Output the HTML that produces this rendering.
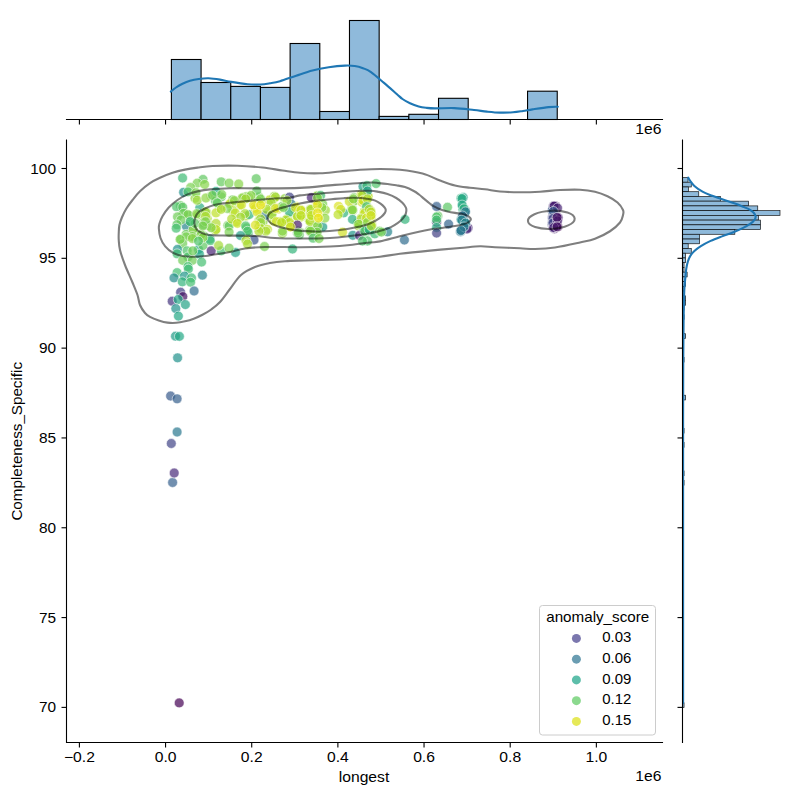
<!DOCTYPE html>
<html><head><meta charset="utf-8"><title>jointplot</title>
<style>html,body{margin:0;padding:0;background:#fff;}body{width:800px;height:800px;overflow:hidden;}svg{display:block;opacity:0.999;}text{font-family:"Liberation Sans",sans-serif;font-size:14px;fill:#000;}</style>
</head><body>
<svg width="800" height="800" viewBox="0 0 800 800">
<rect width="800" height="800" fill="#fff"/>
<g fill="#8fbadb" stroke="#000" stroke-width="1.1">
<rect x="171.40" y="59.50" width="29.68" height="60.00"/>
<rect x="201.08" y="82.50" width="29.68" height="37.00"/>
<rect x="230.76" y="86.40" width="29.68" height="33.10"/>
<rect x="260.44" y="87.40" width="29.68" height="32.10"/>
<rect x="290.12" y="43.50" width="29.68" height="76.00"/>
<rect x="319.80" y="111.50" width="29.68" height="8.00"/>
<rect x="349.48" y="20.50" width="29.68" height="99.00"/>
<rect x="379.16" y="116.40" width="29.68" height="3.10"/>
<rect x="408.84" y="114.30" width="29.68" height="5.20"/>
<rect x="438.52" y="98.30" width="29.68" height="21.20"/>
<rect x="527.56" y="91.20" width="29.68" height="28.30"/>
</g>
<path d="M170.80,91.60C171.67,90.92 174.05,88.80 176.00,87.50C177.95,86.20 180.17,84.92 182.50,83.80C184.83,82.68 187.30,81.60 190.00,80.80C192.70,80.00 195.62,79.42 198.70,79.00C201.78,78.58 204.95,78.20 208.50,78.30C212.05,78.40 216.22,79.00 220.00,79.60C223.78,80.20 226.62,81.13 231.20,81.90C235.78,82.67 242.62,83.77 247.50,84.20C252.38,84.63 256.75,84.65 260.50,84.50C264.25,84.35 266.75,83.85 270.00,83.30C273.25,82.75 275.63,82.47 280.00,81.20C284.37,79.93 290.78,77.48 296.20,75.70C301.62,73.92 307.08,71.90 312.50,70.50C317.92,69.10 323.28,68.12 328.70,67.30C334.12,66.48 340.67,65.82 345.00,65.60C349.33,65.38 351.70,65.57 354.70,66.00C357.70,66.43 360.28,67.18 363.00,68.20C365.72,69.22 367.50,69.65 371.00,72.10C374.50,74.55 379.67,79.22 384.00,82.90C388.33,86.58 393.92,91.52 397.00,94.20C400.08,96.88 400.33,97.48 402.50,99.00C404.67,100.52 407.30,102.05 410.00,103.30C412.70,104.55 416.03,105.75 418.70,106.50C421.37,107.25 423.28,107.48 426.00,107.80C428.72,108.12 430.25,108.35 435.00,108.40C439.75,108.45 448.00,107.83 454.50,108.10C461.00,108.37 468.58,109.42 474.00,110.00C479.42,110.58 482.67,111.17 487.00,111.60C491.33,112.03 495.67,112.48 500.00,112.60C504.33,112.72 509.17,112.57 513.00,112.30C516.83,112.03 519.75,111.48 523.00,111.00C526.25,110.52 528.22,110.05 532.50,109.40C536.78,108.75 544.48,107.53 548.70,107.10C552.92,106.67 556.28,106.85 557.80,106.80" fill="none" stroke="#1f77b4" stroke-width="2.1" stroke-linecap="round" stroke-linejoin="round"/>
<g fill="#8fbadb" stroke="#000" stroke-width="0.7" stroke-opacity="0.9">
<rect x="682.50" y="177.50" width="5.52" height="4.73"/>
<rect x="682.50" y="182.23" width="8.77" height="4.73"/>
<rect x="682.50" y="186.97" width="6.01" height="4.73"/>
<rect x="682.50" y="191.70" width="16.25" height="4.73"/>
<rect x="682.50" y="196.43" width="38.02" height="4.73"/>
<rect x="682.50" y="201.16" width="66.14" height="4.73"/>
<rect x="682.50" y="205.90" width="75.24" height="4.73"/>
<rect x="682.50" y="210.63" width="97.50" height="4.73"/>
<rect x="682.50" y="215.36" width="75.89" height="4.73"/>
<rect x="682.50" y="220.10" width="78.00" height="4.73"/>
<rect x="682.50" y="224.83" width="78.00" height="4.73"/>
<rect x="682.50" y="229.56" width="52.32" height="4.73"/>
<rect x="682.50" y="234.30" width="17.06" height="4.73"/>
<rect x="682.50" y="239.03" width="17.06" height="4.73"/>
<rect x="682.50" y="243.76" width="5.69" height="4.73"/>
<rect x="682.50" y="248.50" width="8.77" height="4.73"/>
<rect x="682.50" y="253.23" width="3.09" height="4.73"/>
<rect x="682.50" y="257.96" width="3.09" height="4.73"/>
<rect x="682.50" y="262.69" width="1.55" height="4.73"/>
<rect x="682.50" y="267.43" width="1.55" height="4.73"/>
<rect x="682.50" y="272.16" width="4.65" height="4.73"/>
<rect x="682.50" y="276.89" width="3.10" height="4.73"/>
<rect x="682.50" y="281.63" width="3.10" height="4.73"/>
<rect x="682.50" y="286.36" width="1.55" height="4.73"/>
<rect x="682.50" y="291.09" width="1.55" height="4.73"/>
<rect x="682.50" y="295.82" width="3.10" height="4.73"/>
<rect x="682.50" y="300.56" width="3.10" height="4.73"/>
<rect x="682.50" y="305.29" width="1.55" height="4.73"/>
<rect x="682.50" y="314.76" width="1.55" height="4.73"/>
<rect x="682.50" y="333.69" width="3.10" height="4.73"/>
<rect x="682.50" y="357.35" width="1.55" height="4.73"/>
<rect x="682.50" y="395.22" width="3.10" height="4.73"/>
<rect x="682.50" y="428.35" width="1.55" height="4.73"/>
<rect x="682.50" y="442.55" width="1.55" height="4.73"/>
<rect x="682.50" y="470.95" width="1.55" height="4.73"/>
<rect x="682.50" y="480.41" width="1.55" height="4.73"/>
<rect x="682.50" y="702.86" width="1.55" height="4.73"/>
</g>
<path d="M688.20,177.55C688.55,178.15 689.28,179.72 690.31,181.12C691.34,182.53 692.34,184.24 694.37,186.00C696.41,187.76 699.52,190.06 702.50,191.69C705.48,193.31 708.73,194.39 712.25,195.75C715.77,197.10 719.83,198.51 723.62,199.81C727.42,201.11 731.75,202.38 735.00,203.55C738.25,204.71 740.69,205.80 743.12,206.80C745.56,207.80 747.86,208.56 749.62,209.56C751.38,210.56 752.68,211.67 753.69,212.81C754.69,213.95 755.50,215.22 755.64,216.39C755.77,217.55 755.36,218.58 754.50,219.80C753.63,221.02 752.33,222.34 750.44,223.70C748.54,225.05 745.97,226.49 743.12,227.92C740.28,229.36 736.89,230.90 733.37,232.31C729.85,233.72 725.79,234.94 722.00,236.37C718.21,237.81 714.14,239.30 710.62,240.92C707.10,242.55 703.58,244.44 700.87,246.12C698.17,247.80 696.13,249.37 694.37,251.00C692.61,252.62 691.40,254.11 690.31,255.87C689.23,257.63 688.55,259.39 687.87,261.56C687.20,263.73 686.66,266.30 686.25,268.87C685.84,271.45 685.76,273.48 685.44,277.00C685.11,280.52 684.61,282.83 684.30,290.00C683.99,297.16 683.77,308.33 683.60,320.00C683.43,331.67 683.33,343.33 683.25,360.00C683.17,376.67 683.12,396.67 683.10,420.00C683.08,443.33 683.10,470.00 683.10,500.00C683.10,530.00 683.10,566.17 683.10,600.00C683.10,633.83 683.10,685.83 683.10,703.00" fill="none" stroke="#1f77b4" stroke-width="2.1" stroke-linecap="round" stroke-linejoin="round"/>
<g id="pts" stroke="#fff" stroke-width="0.79" stroke-opacity="0.7" fill-opacity="0.7">
<circle cx="195.0" cy="198.2" r="4.91" fill="#96d73f"/>
<circle cx="211.1" cy="196.0" r="4.91" fill="#8bd446"/>
<circle cx="221.2" cy="196.9" r="4.91" fill="#62c95f"/>
<circle cx="215.5" cy="200.9" r="4.91" fill="#5ac663"/>
<circle cx="230.4" cy="204.4" r="4.91" fill="#b4dd2b"/>
<circle cx="180.5" cy="205.7" r="4.91" fill="#63c95e"/>
<circle cx="182.7" cy="213.7" r="4.91" fill="#6dcd59"/>
<circle cx="189.5" cy="215.6" r="4.91" fill="#6ccc59"/>
<circle cx="192.8" cy="230.8" r="4.91" fill="#72ce56"/>
<circle cx="197.5" cy="215.0" r="4.91" fill="#8cd545"/>
<circle cx="206.5" cy="212.5" r="4.91" fill="#a1d938"/>
<circle cx="207.2" cy="218.6" r="4.91" fill="#a7da34"/>
<circle cx="203.3" cy="222.6" r="4.91" fill="#84d34b"/>
<circle cx="215.4" cy="230.3" r="4.91" fill="#9dd83b"/>
<circle cx="209.5" cy="225.8" r="4.91" fill="#6dcd58"/>
<circle cx="227.8" cy="225.5" r="4.91" fill="#73cf55"/>
<circle cx="200.8" cy="234.9" r="4.91" fill="#94d641"/>
<circle cx="192.0" cy="235.8" r="4.91" fill="#94d640"/>
<circle cx="219.6" cy="208.1" r="4.91" fill="#9ed83a"/>
<circle cx="203.3" cy="224.8" r="4.91" fill="#5fc860"/>
<circle cx="189.5" cy="221.9" r="4.91" fill="#5cc762"/>
<circle cx="248.8" cy="197.4" r="4.91" fill="#9ad83c"/>
<circle cx="243.7" cy="197.5" r="4.91" fill="#87d448"/>
<circle cx="246.4" cy="196.7" r="4.91" fill="#85d34a"/>
<circle cx="232.7" cy="199.8" r="4.91" fill="#72ce56"/>
<circle cx="258.9" cy="196.9" r="4.91" fill="#73cf55"/>
<circle cx="258.2" cy="200.8" r="4.91" fill="#82d34c"/>
<circle cx="274.3" cy="196.3" r="4.91" fill="#99d73d"/>
<circle cx="273.6" cy="198.8" r="4.91" fill="#c3e026"/>
<circle cx="284.8" cy="198.6" r="4.91" fill="#91d642"/>
<circle cx="269.4" cy="200.0" r="4.91" fill="#bade28"/>
<circle cx="239.6" cy="205.2" r="4.91" fill="#b1dd2d"/>
<circle cx="256.0" cy="206.8" r="4.91" fill="#eae525"/>
<circle cx="254.7" cy="206.8" r="4.91" fill="#eee525"/>
<circle cx="262.0" cy="204.1" r="4.91" fill="#d8e226"/>
<circle cx="269.1" cy="211.2" r="4.91" fill="#bddf26"/>
<circle cx="258.3" cy="210.6" r="4.91" fill="#dee325"/>
<circle cx="232.8" cy="210.5" r="4.91" fill="#aedc2f"/>
<circle cx="245.9" cy="216.0" r="4.91" fill="#a5da35"/>
<circle cx="236.0" cy="222.0" r="4.91" fill="#b6de2a"/>
<circle cx="246.3" cy="228.0" r="4.91" fill="#61c95f"/>
<circle cx="248.3" cy="232.7" r="4.91" fill="#3dba74"/>
<circle cx="259.0" cy="220.4" r="4.91" fill="#97d73e"/>
<circle cx="263.0" cy="222.0" r="4.91" fill="#8ed544"/>
<circle cx="259.0" cy="226.7" r="4.91" fill="#98d73e"/>
<circle cx="267.4" cy="229.4" r="4.91" fill="#bfdf26"/>
<circle cx="271.3" cy="214.8" r="4.91" fill="#89d447"/>
<circle cx="277.9" cy="209.2" r="4.91" fill="#d2e226"/>
<circle cx="277.7" cy="208.2" r="4.91" fill="#e8e425"/>
<circle cx="282.0" cy="206.4" r="4.91" fill="#6fcd57"/>
<circle cx="295.8" cy="206.4" r="4.91" fill="#cbe126"/>
<circle cx="294.7" cy="209.7" r="4.91" fill="#c7e026"/>
<circle cx="295.5" cy="208.0" r="4.91" fill="#eae525"/>
<circle cx="295.4" cy="209.7" r="4.91" fill="#d0e126"/>
<circle cx="274.0" cy="221.3" r="4.91" fill="#bcdf27"/>
<circle cx="287.5" cy="218.3" r="4.91" fill="#aedc30"/>
<circle cx="287.1" cy="220.2" r="4.91" fill="#a4da36"/>
<circle cx="289.8" cy="223.9" r="4.91" fill="#a3d937"/>
<circle cx="296.8" cy="215.3" r="4.91" fill="#c2e026"/>
<circle cx="297.4" cy="216.7" r="4.91" fill="#c1df26"/>
<circle cx="298.4" cy="216.1" r="4.91" fill="#b7de2a"/>
<circle cx="297.4" cy="216.5" r="4.91" fill="#bddf26"/>
<circle cx="282.4" cy="233.4" r="4.91" fill="#95d740"/>
<circle cx="299.3" cy="231.8" r="4.91" fill="#72ce55"/>
<circle cx="299.3" cy="234.7" r="4.91" fill="#5cc762"/>
<circle cx="297.3" cy="232.7" r="4.91" fill="#58c664"/>
<circle cx="297.6" cy="230.9" r="4.91" fill="#78d052"/>
<circle cx="291.4" cy="225.2" r="4.91" fill="#d8e226"/>
<circle cx="290.8" cy="225.1" r="4.91" fill="#e2e425"/>
<circle cx="291.5" cy="225.5" r="4.91" fill="#e7e425"/>
<circle cx="290.2" cy="226.8" r="4.91" fill="#e9e525"/>
<circle cx="281.3" cy="222.6" r="4.91" fill="#b2dd2d"/>
<circle cx="280.1" cy="221.6" r="4.91" fill="#cbe126"/>
<circle cx="317.5" cy="195.8" r="4.91" fill="#a8db34"/>
<circle cx="318.2" cy="200.4" r="4.91" fill="#6fcd57"/>
<circle cx="316.9" cy="195.7" r="4.91" fill="#9ad83c"/>
<circle cx="316.9" cy="196.1" r="4.91" fill="#82d34c"/>
<circle cx="318.3" cy="203.8" r="4.91" fill="#c7e026"/>
<circle cx="318.5" cy="205.4" r="4.91" fill="#eae525"/>
<circle cx="316.5" cy="202.8" r="4.91" fill="#e9e525"/>
<circle cx="317.3" cy="202.9" r="4.91" fill="#f9e725"/>
<circle cx="309.9" cy="211.2" r="4.91" fill="#93d641"/>
<circle cx="311.8" cy="209.2" r="4.91" fill="#a5da36"/>
<circle cx="311.0" cy="211.5" r="4.91" fill="#a0d939"/>
<circle cx="310.0" cy="209.5" r="4.91" fill="#9ed93a"/>
<circle cx="316.7" cy="210.7" r="4.91" fill="#d7e226"/>
<circle cx="317.0" cy="211.9" r="4.91" fill="#fae725"/>
<circle cx="317.0" cy="212.9" r="4.91" fill="#d5e226"/>
<circle cx="317.1" cy="210.5" r="4.91" fill="#dae326"/>
<circle cx="318.5" cy="216.5" r="4.91" fill="#e8e425"/>
<circle cx="319.4" cy="216.1" r="4.91" fill="#fde725"/>
<circle cx="318.2" cy="218.1" r="4.91" fill="#fde725"/>
<circle cx="318.1" cy="218.1" r="4.91" fill="#f6e625"/>
<circle cx="310.9" cy="222.6" r="4.91" fill="#b9de29"/>
<circle cx="309.9" cy="220.8" r="4.91" fill="#92d642"/>
<circle cx="309.2" cy="219.5" r="4.91" fill="#c0df26"/>
<circle cx="309.5" cy="219.9" r="4.91" fill="#94d640"/>
<circle cx="318.4" cy="226.9" r="4.91" fill="#79d152"/>
<circle cx="316.9" cy="225.0" r="4.91" fill="#85d34a"/>
<circle cx="316.7" cy="225.7" r="4.91" fill="#78d052"/>
<circle cx="318.6" cy="228.4" r="4.91" fill="#8bd446"/>
<circle cx="316.6" cy="231.4" r="4.91" fill="#5fc860"/>
<circle cx="316.8" cy="232.0" r="4.91" fill="#7ad151"/>
<circle cx="316.4" cy="232.1" r="4.91" fill="#5fc860"/>
<circle cx="316.5" cy="230.0" r="4.91" fill="#75cf54"/>
<circle cx="309.4" cy="230.2" r="4.91" fill="#6ccc59"/>
<circle cx="310.7" cy="231.3" r="4.91" fill="#8bd546"/>
<circle cx="310.9" cy="232.3" r="4.91" fill="#93d641"/>
<circle cx="310.2" cy="230.3" r="4.91" fill="#9ad83c"/>
<circle cx="301.4" cy="210.9" r="4.91" fill="#acdb31"/>
<circle cx="301.7" cy="212.2" r="4.91" fill="#d2e226"/>
<circle cx="301.5" cy="211.8" r="4.91" fill="#b2dd2d"/>
<circle cx="301.0" cy="210.2" r="4.91" fill="#dfe325"/>
<circle cx="301.7" cy="215.9" r="4.91" fill="#d6e226"/>
<circle cx="301.3" cy="216.5" r="4.91" fill="#abdb32"/>
<circle cx="299.8" cy="213.7" r="4.91" fill="#b4dd2c"/>
<circle cx="300.0" cy="217.2" r="4.91" fill="#c1df26"/>
<circle cx="353.5" cy="199.7" r="4.91" fill="#6dcd58"/>
<circle cx="354.0" cy="197.7" r="4.91" fill="#6ecd58"/>
<circle cx="352.8" cy="200.0" r="4.91" fill="#75cf54"/>
<circle cx="354.0" cy="201.3" r="4.91" fill="#87d449"/>
<circle cx="352.4" cy="210.7" r="4.91" fill="#a0d939"/>
<circle cx="352.8" cy="210.5" r="4.91" fill="#73cf55"/>
<circle cx="351.7" cy="208.6" r="4.91" fill="#9ed93a"/>
<circle cx="352.0" cy="210.1" r="4.91" fill="#70ce57"/>
<circle cx="362.0" cy="193.5" r="4.91" fill="#c9e126"/>
<circle cx="361.4" cy="197.8" r="4.91" fill="#cce126"/>
<circle cx="360.9" cy="195.2" r="4.91" fill="#c5e026"/>
<circle cx="363.2" cy="195.1" r="4.91" fill="#a0d939"/>
<circle cx="364.1" cy="199.2" r="4.91" fill="#d5e226"/>
<circle cx="362.1" cy="200.7" r="4.91" fill="#ede525"/>
<circle cx="362.1" cy="202.2" r="4.91" fill="#d1e126"/>
<circle cx="363.9" cy="201.6" r="4.91" fill="#bfdf26"/>
<circle cx="367.4" cy="196.5" r="4.91" fill="#8ed544"/>
<circle cx="367.4" cy="198.7" r="4.91" fill="#a2d937"/>
<circle cx="366.5" cy="198.1" r="4.91" fill="#a3da37"/>
<circle cx="368.2" cy="196.4" r="4.91" fill="#c0df26"/>
<circle cx="365.7" cy="214.0" r="4.91" fill="#e4e425"/>
<circle cx="364.2" cy="212.3" r="4.91" fill="#c3e026"/>
<circle cx="365.9" cy="213.3" r="4.91" fill="#c1df26"/>
<circle cx="364.5" cy="211.8" r="4.91" fill="#acdb31"/>
<circle cx="363.7" cy="214.6" r="4.91" fill="#bcdf27"/>
<circle cx="368.5" cy="208.2" r="4.91" fill="#b0dc2e"/>
<circle cx="368.4" cy="208.8" r="4.91" fill="#cde126"/>
<circle cx="370.0" cy="211.0" r="4.91" fill="#b8de29"/>
<circle cx="370.1" cy="211.6" r="4.91" fill="#b3dd2c"/>
<circle cx="360.1" cy="220.2" r="4.91" fill="#acdc31"/>
<circle cx="361.8" cy="219.7" r="4.91" fill="#a1d938"/>
<circle cx="360.1" cy="221.1" r="4.91" fill="#97d73f"/>
<circle cx="361.1" cy="218.2" r="4.91" fill="#a2d937"/>
<circle cx="367.6" cy="216.9" r="4.91" fill="#d4e226"/>
<circle cx="366.0" cy="218.4" r="4.91" fill="#c3e026"/>
<circle cx="365.7" cy="216.4" r="4.91" fill="#b7de2a"/>
<circle cx="367.5" cy="218.1" r="4.91" fill="#b8de29"/>
<circle cx="359.8" cy="223.9" r="4.91" fill="#77d053"/>
<circle cx="357.9" cy="222.2" r="4.91" fill="#84d34b"/>
<circle cx="357.6" cy="222.9" r="4.91" fill="#7ed24e"/>
<circle cx="358.8" cy="226.1" r="4.91" fill="#9fd939"/>
<circle cx="367.2" cy="222.6" r="4.91" fill="#7fd24e"/>
<circle cx="367.0" cy="220.3" r="4.91" fill="#79d152"/>
<circle cx="368.5" cy="220.6" r="4.91" fill="#88d448"/>
<circle cx="367.7" cy="224.3" r="4.91" fill="#75cf54"/>
<circle cx="364.1" cy="230.7" r="4.91" fill="#4cc26b"/>
<circle cx="365.8" cy="232.9" r="4.91" fill="#63c95e"/>
<circle cx="363.6" cy="228.9" r="4.91" fill="#5ac663"/>
<circle cx="365.6" cy="231.1" r="4.91" fill="#54c467"/>
<circle cx="312.3" cy="217.9" r="4.91" fill="#acdb31"/>
<circle cx="310.5" cy="213.8" r="4.91" fill="#bedf26"/>
<circle cx="311.8" cy="217.7" r="4.91" fill="#cbe126"/>
<circle cx="311.8" cy="216.8" r="4.91" fill="#bade28"/>
<circle cx="371.2" cy="213.0" r="4.91" fill="#a3da37"/>
<circle cx="369.9" cy="212.1" r="4.91" fill="#c2e026"/>
<circle cx="370.6" cy="210.6" r="4.91" fill="#c3e026"/>
<circle cx="369.7" cy="211.0" r="4.91" fill="#bade28"/>
<circle cx="371.2" cy="217.4" r="4.91" fill="#cfe126"/>
<circle cx="370.3" cy="214.2" r="4.91" fill="#eee525"/>
<circle cx="371.4" cy="214.5" r="4.91" fill="#b1dd2e"/>
<circle cx="370.9" cy="216.4" r="4.91" fill="#cbe126"/>
<circle cx="371.7" cy="228.1" r="4.91" fill="#9dd83a"/>
<circle cx="370.2" cy="225.2" r="4.91" fill="#aadb32"/>
<circle cx="371.7" cy="224.5" r="4.91" fill="#c3e026"/>
<circle cx="371.9" cy="226.0" r="4.91" fill="#9cd83b"/>
<circle cx="437.9" cy="216.0" r="4.91" fill="#67cb5c"/>
<circle cx="468.1" cy="227.9" r="4.91" fill="#472777"/>
<circle cx="463.2" cy="197.5" r="4.91" fill="#229e88"/>
<circle cx="461.0" cy="198.3" r="4.91" fill="#30b17c"/>
<circle cx="462.7" cy="206.5" r="4.91" fill="#31b27b"/>
<circle cx="463.2" cy="210.1" r="4.91" fill="#35b579"/>
<circle cx="462.9" cy="209.2" r="4.91" fill="#28ac80"/>
<circle cx="465.1" cy="210.8" r="4.91" fill="#2f6c8e"/>
<circle cx="465.0" cy="211.3" r="4.91" fill="#26838d"/>
<circle cx="463.6" cy="215.0" r="4.91" fill="#31688d"/>
<circle cx="463.3" cy="216.9" r="4.91" fill="#306a8d"/>
<circle cx="461.7" cy="219.6" r="4.91" fill="#228f8c"/>
<circle cx="461.0" cy="219.6" r="4.91" fill="#228e8c"/>
<circle cx="465.3" cy="223.9" r="4.91" fill="#238b8c"/>
<circle cx="464.4" cy="221.6" r="4.91" fill="#297a8e"/>
<circle cx="463.4" cy="227.5" r="4.91" fill="#25878d"/>
<circle cx="460.5" cy="231.9" r="4.91" fill="#297b8e"/>
<circle cx="460.4" cy="231.1" r="4.91" fill="#2c738e"/>
<circle cx="552.9" cy="206.9" r="4.91" fill="#462b79"/>
<circle cx="554.4" cy="207.4" r="4.91" fill="#450c5f"/>
<circle cx="553.5" cy="206.0" r="4.91" fill="#462c7a"/>
<circle cx="555.2" cy="205.8" r="4.91" fill="#461466"/>
<circle cx="553.9" cy="206.1" r="4.91" fill="#462b79"/>
<circle cx="554.0" cy="212.4" r="4.91" fill="#34618d"/>
<circle cx="553.7" cy="210.9" r="4.91" fill="#3a558b"/>
<circle cx="553.1" cy="212.2" r="4.91" fill="#3c4e89"/>
<circle cx="552.7" cy="212.2" r="4.91" fill="#3a538a"/>
<circle cx="552.4" cy="210.0" r="4.91" fill="#375b8c"/>
<circle cx="554.2" cy="219.7" r="4.91" fill="#3b518a"/>
<circle cx="552.4" cy="217.3" r="4.91" fill="#443780"/>
<circle cx="553.0" cy="219.1" r="4.91" fill="#414286"/>
<circle cx="552.4" cy="218.3" r="4.91" fill="#404788"/>
<circle cx="553.4" cy="219.2" r="4.91" fill="#3d4d89"/>
<circle cx="552.1" cy="224.0" r="4.91" fill="#423d83"/>
<circle cx="553.2" cy="222.6" r="4.91" fill="#3e4a88"/>
<circle cx="552.3" cy="222.2" r="4.91" fill="#433c82"/>
<circle cx="552.2" cy="224.2" r="4.91" fill="#404687"/>
<circle cx="552.6" cy="222.7" r="4.91" fill="#3b518a"/>
<circle cx="557.8" cy="217.9" r="4.91" fill="#482475"/>
<circle cx="556.1" cy="217.3" r="4.91" fill="#471e6f"/>
<circle cx="557.9" cy="218.6" r="4.91" fill="#440255"/>
<circle cx="556.6" cy="216.3" r="4.91" fill="#45085a"/>
<circle cx="558.2" cy="217.6" r="4.91" fill="#482273"/>
<circle cx="554.6" cy="227.3" r="4.91" fill="#471c6d"/>
<circle cx="554.4" cy="228.8" r="4.91" fill="#461668"/>
<circle cx="554.0" cy="227.9" r="4.91" fill="#471a6c"/>
<circle cx="553.4" cy="226.4" r="4.91" fill="#471a6b"/>
<circle cx="553.2" cy="227.8" r="4.91" fill="#472978"/>
<circle cx="555.9" cy="226.2" r="4.91" fill="#47196a"/>
<circle cx="556.3" cy="226.2" r="4.91" fill="#45085b"/>
<circle cx="557.8" cy="226.9" r="4.91" fill="#440356"/>
<circle cx="556.1" cy="226.4" r="4.91" fill="#461466"/>
<circle cx="557.4" cy="225.5" r="4.91" fill="#450759"/>
<circle cx="204.0" cy="236.1" r="4.91" fill="#6acc5a"/>
<circle cx="183.6" cy="192.3" r="4.91" fill="#21918c"/>
<circle cx="216.0" cy="191.4" r="4.91" fill="#22a884"/>
<circle cx="186.2" cy="226.0" r="4.91" fill="#26848d"/>
<circle cx="199.8" cy="207.6" r="4.91" fill="#29ad80"/>
<circle cx="289.5" cy="197.1" r="4.91" fill="#414487"/>
<circle cx="291.2" cy="204.1" r="4.91" fill="#2a788e"/>
<circle cx="249.2" cy="214.6" r="4.91" fill="#33b47a"/>
<circle cx="289.5" cy="212.0" r="4.91" fill="#29ad80"/>
<circle cx="265.0" cy="215.5" r="4.91" fill="#2a788e"/>
<circle cx="311.4" cy="197.6" r="4.91" fill="#482475"/>
<circle cx="322.7" cy="226.9" r="4.91" fill="#229c88"/>
<circle cx="343.7" cy="212.9" r="4.91" fill="#33b47a"/>
<circle cx="363.0" cy="186.6" r="4.91" fill="#229c88"/>
<circle cx="370.0" cy="230.4" r="4.91" fill="#21918c"/>
<circle cx="436.6" cy="222.2" r="4.91" fill="#472a79"/>
<circle cx="467.0" cy="229.0" r="4.91" fill="#472a79"/>
<circle cx="221.2" cy="250.8" r="4.91" fill="#44bf70"/>
<circle cx="179.2" cy="702.9" r="4.91" fill="#440154"/>
<circle cx="172.6" cy="482.5" r="4.91" fill="#355f8d"/>
<circle cx="174.2" cy="473.0" r="4.91" fill="#472a79"/>
<circle cx="171.3" cy="443.5" r="4.91" fill="#414487"/>
<circle cx="177.1" cy="432.0" r="4.91" fill="#2a788e"/>
<circle cx="170.6" cy="396.0" r="4.91" fill="#375a8c"/>
<circle cx="177.1" cy="398.8" r="4.91" fill="#355f8d"/>
<circle cx="177.6" cy="357.8" r="4.91" fill="#21918c"/>
<circle cx="175.5" cy="336.2" r="4.91" fill="#229c88"/>
<circle cx="179.4" cy="336.4" r="4.91" fill="#22a884"/>
<circle cx="182.6" cy="178.0" r="4.91" fill="#3dba74"/>
<circle cx="203.0" cy="179.4" r="4.91" fill="#5fc860"/>
<circle cx="197.2" cy="183.1" r="4.91" fill="#7ad151"/>
<circle cx="204.6" cy="184.4" r="4.91" fill="#87d448"/>
<circle cx="221.2" cy="181.8" r="4.91" fill="#64ca5d"/>
<circle cx="190.6" cy="187.5" r="4.91" fill="#7ad151"/>
<circle cx="188.0" cy="191.9" r="4.91" fill="#4fc36a"/>
<circle cx="195.9" cy="192.7" r="4.91" fill="#7ad151"/>
<circle cx="197.2" cy="200.2" r="4.91" fill="#9cd83c"/>
<circle cx="205.9" cy="198.0" r="4.91" fill="#8ed544"/>
<circle cx="212.5" cy="195.4" r="4.91" fill="#6fcd57"/>
<circle cx="221.7" cy="194.5" r="4.91" fill="#7ad151"/>
<circle cx="217.3" cy="202.8" r="4.91" fill="#64ca5d"/>
<circle cx="229.1" cy="183.1" r="4.91" fill="#7ad151"/>
<circle cx="230.0" cy="203.7" r="4.91" fill="#bddf26"/>
<circle cx="176.6" cy="206.7" r="4.91" fill="#4fc36a"/>
<circle cx="182.7" cy="207.2" r="4.91" fill="#5ac664"/>
<circle cx="183.6" cy="213.3" r="4.91" fill="#6fcd57"/>
<circle cx="188.0" cy="214.6" r="4.91" fill="#7ad151"/>
<circle cx="177.5" cy="216.8" r="4.91" fill="#6fcd57"/>
<circle cx="181.0" cy="219.9" r="4.91" fill="#6fcd57"/>
<circle cx="177.0" cy="224.7" r="4.91" fill="#5fc860"/>
<circle cx="176.2" cy="228.2" r="4.91" fill="#44bf70"/>
<circle cx="186.2" cy="234.3" r="4.91" fill="#6fcd57"/>
<circle cx="193.2" cy="229.5" r="4.91" fill="#87d448"/>
<circle cx="195.0" cy="223.4" r="4.91" fill="#5fc860"/>
<circle cx="196.7" cy="213.7" r="4.91" fill="#87d448"/>
<circle cx="205.5" cy="212.0" r="4.91" fill="#9cd83c"/>
<circle cx="205.5" cy="216.4" r="4.91" fill="#a9db33"/>
<circle cx="205.5" cy="221.6" r="4.91" fill="#7ad151"/>
<circle cx="216.0" cy="212.9" r="4.91" fill="#bddf26"/>
<circle cx="216.0" cy="223.4" r="4.91" fill="#b0dc2f"/>
<circle cx="216.0" cy="229.5" r="4.91" fill="#bddf26"/>
<circle cx="211.2" cy="227.7" r="4.91" fill="#87d448"/>
<circle cx="227.4" cy="208.5" r="4.91" fill="#7ad151"/>
<circle cx="229.1" cy="226.0" r="4.91" fill="#5fc860"/>
<circle cx="201.1" cy="234.7" r="4.91" fill="#7ad151"/>
<circle cx="209.9" cy="239.1" r="4.91" fill="#29ad80"/>
<circle cx="229.1" cy="232.1" r="4.91" fill="#7ad151"/>
<circle cx="192.4" cy="236.5" r="4.91" fill="#7ad151"/>
<circle cx="181.0" cy="239.1" r="4.91" fill="#6fcd57"/>
<circle cx="221.2" cy="209.4" r="4.91" fill="#b0dc2f"/>
<circle cx="202.9" cy="226.0" r="4.91" fill="#7ad151"/>
<circle cx="190.2" cy="221.6" r="4.91" fill="#44bf70"/>
<circle cx="256.2" cy="178.7" r="4.91" fill="#5fc860"/>
<circle cx="238.7" cy="184.0" r="4.91" fill="#87d448"/>
<circle cx="256.7" cy="191.0" r="4.91" fill="#5fc860"/>
<circle cx="251.0" cy="195.4" r="4.91" fill="#87d448"/>
<circle cx="242.2" cy="198.0" r="4.91" fill="#8ed544"/>
<circle cx="245.7" cy="198.9" r="4.91" fill="#a2d937"/>
<circle cx="234.4" cy="200.6" r="4.91" fill="#8ed544"/>
<circle cx="260.6" cy="198.9" r="4.91" fill="#7ad151"/>
<circle cx="275.5" cy="197.1" r="4.91" fill="#a2d937"/>
<circle cx="286.9" cy="200.6" r="4.91" fill="#9cd83c"/>
<circle cx="271.1" cy="202.4" r="4.91" fill="#9cd83c"/>
<circle cx="241.4" cy="205.0" r="4.91" fill="#d0e126"/>
<circle cx="255.4" cy="208.5" r="4.91" fill="#dde326"/>
<circle cx="266.7" cy="209.4" r="4.91" fill="#a9db33"/>
<circle cx="257.1" cy="212.0" r="4.91" fill="#dde326"/>
<circle cx="235.2" cy="212.9" r="4.91" fill="#bddf26"/>
<circle cx="244.9" cy="213.7" r="4.91" fill="#a9db33"/>
<circle cx="240.5" cy="217.2" r="4.91" fill="#a2d937"/>
<circle cx="231.7" cy="219.0" r="4.91" fill="#b0dc2f"/>
<circle cx="237.4" cy="223.4" r="4.91" fill="#cae126"/>
<circle cx="245.7" cy="226.0" r="4.91" fill="#4fc36a"/>
<circle cx="247.5" cy="231.2" r="4.91" fill="#4fc36a"/>
<circle cx="240.5" cy="235.6" r="4.91" fill="#229c88"/>
<circle cx="254.0" cy="240.0" r="4.91" fill="#3b528a"/>
<circle cx="246.0" cy="240.5" r="4.91" fill="#b0dc2f"/>
<circle cx="247.5" cy="244.0" r="4.91" fill="#a9db33"/>
<circle cx="260.6" cy="219.0" r="4.91" fill="#a2d937"/>
<circle cx="260.6" cy="222.5" r="4.91" fill="#95d740"/>
<circle cx="260.6" cy="228.6" r="4.91" fill="#b0dc2f"/>
<circle cx="265.9" cy="231.2" r="4.91" fill="#a9db33"/>
<circle cx="258.9" cy="231.2" r="4.91" fill="#b0dc2f"/>
<circle cx="272.0" cy="214.6" r="4.91" fill="#a2d937"/>
<circle cx="275.5" cy="208.5" r="4.91" fill="#d0e126"/>
<circle cx="283.4" cy="207.6" r="4.91" fill="#7ad151"/>
<circle cx="295.6" cy="207.6" r="4.91" fill="#d0e126"/>
<circle cx="276.4" cy="221.6" r="4.91" fill="#d0e126"/>
<circle cx="286.0" cy="219.9" r="4.91" fill="#b0dc2f"/>
<circle cx="289.5" cy="222.5" r="4.91" fill="#bddf26"/>
<circle cx="297.4" cy="216.4" r="4.91" fill="#b0dc2f"/>
<circle cx="297.4" cy="225.1" r="4.91" fill="#471d6e"/>
<circle cx="282.5" cy="231.2" r="4.91" fill="#87d448"/>
<circle cx="298.2" cy="233.0" r="4.91" fill="#6fcd57"/>
<circle cx="290.4" cy="226.9" r="4.91" fill="#cae126"/>
<circle cx="281.6" cy="222.5" r="4.91" fill="#bddf26"/>
<circle cx="264.5" cy="246.5" r="4.91" fill="#7ad151"/>
<circle cx="235.5" cy="252.5" r="4.91" fill="#22a386"/>
<circle cx="292.5" cy="249.0" r="4.91" fill="#33b47a"/>
<circle cx="320.6" cy="195.4" r="4.91" fill="#44bf70"/>
<circle cx="317.5" cy="198.0" r="4.91" fill="#87d448"/>
<circle cx="322.7" cy="204.1" r="4.91" fill="#7ad151"/>
<circle cx="310.9" cy="209.4" r="4.91" fill="#b0dc2f"/>
<circle cx="325.4" cy="210.2" r="4.91" fill="#9cd83c"/>
<circle cx="324.9" cy="218.1" r="4.91" fill="#8ed544"/>
<circle cx="310.1" cy="221.6" r="4.91" fill="#b0dc2f"/>
<circle cx="317.5" cy="226.0" r="4.91" fill="#87d448"/>
<circle cx="317.1" cy="232.1" r="4.91" fill="#7ad151"/>
<circle cx="310.5" cy="231.2" r="4.91" fill="#7ad151"/>
<circle cx="300.9" cy="210.2" r="4.91" fill="#cae126"/>
<circle cx="300.9" cy="215.5" r="4.91" fill="#bddf26"/>
<circle cx="313.1" cy="238.2" r="4.91" fill="#4fc36a"/>
<circle cx="319.0" cy="238.5" r="4.91" fill="#7ad151"/>
<circle cx="338.5" cy="206.3" r="4.91" fill="#dde326"/>
<circle cx="340.7" cy="209.4" r="4.91" fill="#d0e126"/>
<circle cx="338.1" cy="214.6" r="4.91" fill="#bddf26"/>
<circle cx="349.4" cy="201.5" r="4.91" fill="#cae126"/>
<circle cx="353.4" cy="198.9" r="4.91" fill="#87d448"/>
<circle cx="352.5" cy="209.8" r="4.91" fill="#8ed544"/>
<circle cx="352.5" cy="219.4" r="4.91" fill="#29ad80"/>
<circle cx="342.5" cy="232.2" r="4.91" fill="#d0e126"/>
<circle cx="352.8" cy="235.3" r="4.91" fill="#21968a"/>
<circle cx="359.5" cy="235.5" r="4.91" fill="#482475"/>
<circle cx="366.9" cy="185.7" r="4.91" fill="#3dba74"/>
<circle cx="367.4" cy="191.0" r="4.91" fill="#229c88"/>
<circle cx="362.1" cy="195.4" r="4.91" fill="#b0dc2f"/>
<circle cx="363.0" cy="200.6" r="4.91" fill="#d0e126"/>
<circle cx="367.4" cy="198.9" r="4.91" fill="#b0dc2f"/>
<circle cx="366.5" cy="206.7" r="4.91" fill="#3dba74"/>
<circle cx="364.7" cy="212.9" r="4.91" fill="#cae126"/>
<circle cx="369.1" cy="209.4" r="4.91" fill="#b0dc2f"/>
<circle cx="361.2" cy="219.0" r="4.91" fill="#b0dc2f"/>
<circle cx="366.5" cy="218.1" r="4.91" fill="#cae126"/>
<circle cx="358.6" cy="224.2" r="4.91" fill="#8ed544"/>
<circle cx="367.4" cy="222.5" r="4.91" fill="#87d448"/>
<circle cx="364.7" cy="231.2" r="4.91" fill="#4fc36a"/>
<circle cx="369.1" cy="229.5" r="4.91" fill="#29ad80"/>
<circle cx="367.5" cy="241.0" r="4.91" fill="#4fc36a"/>
<circle cx="362.5" cy="241.0" r="4.91" fill="#4fc36a"/>
<circle cx="311.4" cy="215.5" r="4.91" fill="#bddf26"/>
<circle cx="321.9" cy="207.6" r="4.91" fill="#87d448"/>
<circle cx="376.1" cy="183.6" r="4.91" fill="#4fc36a"/>
<circle cx="405.0" cy="219.4" r="4.91" fill="#33b47a"/>
<circle cx="387.6" cy="231.8" r="4.91" fill="#26848d"/>
<circle cx="374.8" cy="233.9" r="4.91" fill="#3dba74"/>
<circle cx="379.6" cy="231.2" r="4.91" fill="#6fcd57"/>
<circle cx="381.4" cy="232.1" r="4.91" fill="#6fcd57"/>
<circle cx="404.4" cy="240.0" r="4.91" fill="#306c8e"/>
<circle cx="370.9" cy="212.0" r="4.91" fill="#bddf26"/>
<circle cx="370.9" cy="215.5" r="4.91" fill="#d0e126"/>
<circle cx="371.3" cy="226.0" r="4.91" fill="#b0dc2f"/>
<circle cx="436.6" cy="206.5" r="4.91" fill="#355f8d"/>
<circle cx="447.5" cy="207.2" r="4.91" fill="#5ac664"/>
<circle cx="436.6" cy="217.0" r="4.91" fill="#4fc36a"/>
<circle cx="436.6" cy="220.0" r="4.91" fill="#44bf70"/>
<circle cx="436.6" cy="227.5" r="4.91" fill="#29ad80"/>
<circle cx="436.6" cy="233.1" r="4.91" fill="#423e83"/>
<circle cx="448.6" cy="224.1" r="4.91" fill="#33648d"/>
<circle cx="462.1" cy="198.6" r="4.91" fill="#22a884"/>
<circle cx="462.1" cy="205.0" r="4.91" fill="#22a884"/>
<circle cx="464.0" cy="208.8" r="4.91" fill="#2caf7e"/>
<circle cx="465.5" cy="211.8" r="4.91" fill="#2a788e"/>
<circle cx="462.5" cy="215.9" r="4.91" fill="#306c8e"/>
<circle cx="461.8" cy="220.0" r="4.91" fill="#26848d"/>
<circle cx="465.5" cy="223.0" r="4.91" fill="#26848d"/>
<circle cx="464.0" cy="226.8" r="4.91" fill="#287d8e"/>
<circle cx="461.0" cy="230.5" r="4.91" fill="#2a788e"/>
<circle cx="554.1" cy="206.1" r="4.91" fill="#471d6e"/>
<circle cx="557.5" cy="208.0" r="4.91" fill="#482475"/>
<circle cx="553.4" cy="211.4" r="4.91" fill="#375a8c"/>
<circle cx="553.0" cy="218.5" r="4.91" fill="#414487"/>
<circle cx="553.0" cy="223.0" r="4.91" fill="#414487"/>
<circle cx="557.5" cy="220.8" r="4.91" fill="#482475"/>
<circle cx="557.1" cy="217.4" r="4.91" fill="#461264"/>
<circle cx="553.8" cy="227.5" r="4.91" fill="#482475"/>
<circle cx="557.1" cy="226.8" r="4.91" fill="#461264"/>
<circle cx="186.2" cy="236.8" r="4.91" fill="#7ad151"/>
<circle cx="182.7" cy="243.8" r="4.91" fill="#6fcd57"/>
<circle cx="177.5" cy="249.4" r="4.91" fill="#21918c"/>
<circle cx="177.1" cy="253.8" r="4.91" fill="#44bf70"/>
<circle cx="187.1" cy="250.8" r="4.91" fill="#4fc36a"/>
<circle cx="188.0" cy="256.9" r="4.91" fill="#4fc36a"/>
<circle cx="182.7" cy="260.4" r="4.91" fill="#6fcd57"/>
<circle cx="192.4" cy="260.4" r="4.91" fill="#6fcd57"/>
<circle cx="188.0" cy="266.5" r="4.91" fill="#44bf70"/>
<circle cx="188.4" cy="269.1" r="4.91" fill="#3dba74"/>
<circle cx="198.5" cy="249.4" r="4.91" fill="#22a386"/>
<circle cx="199.4" cy="254.2" r="4.91" fill="#22a884"/>
<circle cx="202.9" cy="245.5" r="4.91" fill="#5fc860"/>
<circle cx="201.6" cy="262.1" r="4.91" fill="#44bf70"/>
<circle cx="210.3" cy="240.7" r="4.91" fill="#44bf70"/>
<circle cx="211.2" cy="250.8" r="4.91" fill="#482475"/>
<circle cx="218.6" cy="245.5" r="4.91" fill="#a2d937"/>
<circle cx="202.9" cy="237.6" r="4.91" fill="#87d448"/>
<circle cx="229.1" cy="248.1" r="4.91" fill="#7ad151"/>
<circle cx="177.1" cy="272.6" r="4.91" fill="#44bf70"/>
<circle cx="174.0" cy="277.9" r="4.91" fill="#238c8c"/>
<circle cx="184.5" cy="276.1" r="4.91" fill="#21968a"/>
<circle cx="191.5" cy="277.9" r="4.91" fill="#3dba74"/>
<circle cx="182.3" cy="281.8" r="4.91" fill="#33b47a"/>
<circle cx="190.6" cy="282.2" r="4.91" fill="#44bf70"/>
<circle cx="202.4" cy="275.2" r="4.91" fill="#26848d"/>
<circle cx="194.1" cy="291.0" r="4.91" fill="#306c8e"/>
<circle cx="180.6" cy="292.2" r="4.91" fill="#423e83"/>
<circle cx="182.8" cy="296.6" r="4.91" fill="#461264"/>
<circle cx="172.2" cy="301.2" r="4.91" fill="#44347e"/>
<circle cx="178.2" cy="299.5" r="4.91" fill="#22a884"/>
<circle cx="185.4" cy="304.6" r="4.91" fill="#22a386"/>
<circle cx="175.8" cy="308.6" r="4.91" fill="#21918c"/>
<circle cx="178.4" cy="316.1" r="4.91" fill="#22a884"/>
<circle cx="192.8" cy="250.8" r="4.91" fill="#6fcd57"/>
<circle cx="180.1" cy="239.4" r="4.91" fill="#7ad151"/>
<circle cx="192.4" cy="238.5" r="4.91" fill="#87d448"/>
<circle cx="198.5" cy="241.1" r="4.91" fill="#4fc36a"/>
<circle cx="253.6" cy="205.0" r="4.91" fill="#dde326"/>
<circle cx="260.6" cy="205.0" r="4.91" fill="#eae525"/>
<circle cx="255.4" cy="225.1" r="4.91" fill="#dde326"/>
<circle cx="317.5" cy="205.0" r="4.91" fill="#dde326"/>
<circle cx="317.5" cy="212.9" r="4.91" fill="#eae525"/>
<circle cx="318.4" cy="218.1" r="4.91" fill="#eae525"/>
</g>
<g fill="none" stroke="#000" stroke-opacity="0.5" stroke-width="2.1" stroke-linejoin="round">
<path d="M118.75,233.00C118.86,230.50 118.88,227.58 119.40,225.00C119.93,222.42 120.76,220.21 121.90,217.50C123.04,214.79 124.48,211.67 126.25,208.75C128.02,205.83 130.21,202.92 132.50,200.00C134.79,197.08 137.08,194.07 140.00,191.25C142.92,188.43 146.67,185.34 150.00,183.10C153.33,180.86 156.25,179.52 160.00,177.80C163.75,176.08 168.33,174.17 172.50,172.80C176.67,171.43 180.83,170.47 185.00,169.60C189.17,168.73 192.92,168.20 197.50,167.60C202.08,167.00 205.83,166.31 212.50,166.00C219.17,165.69 229.17,165.50 237.50,165.75C245.83,166.00 255.00,166.71 262.50,167.50C270.00,168.29 276.25,169.62 282.50,170.50C288.75,171.38 293.75,172.34 300.00,172.80C306.25,173.26 313.33,173.47 320.00,173.25C326.67,173.03 333.33,172.07 340.00,171.50C346.67,170.93 353.33,170.22 360.00,169.80C366.67,169.38 373.33,169.00 380.00,169.00C386.67,169.00 392.92,169.05 400.00,169.80C407.08,170.55 415.83,171.72 422.50,173.50C429.17,175.28 434.58,178.50 440.00,180.50C445.42,182.50 450.00,184.29 455.00,185.50C460.00,186.71 465.00,187.12 470.00,187.75C475.00,188.38 480.00,188.62 485.00,189.25C490.00,189.88 494.17,190.99 500.00,191.50C505.83,192.01 513.33,192.27 520.00,192.30C526.67,192.33 533.33,192.08 540.00,191.70C546.67,191.32 553.33,190.33 560.00,190.00C566.67,189.67 574.17,189.41 580.00,189.70C585.83,189.99 590.42,190.66 595.00,191.75C599.58,192.84 603.75,194.46 607.50,196.25C611.25,198.04 614.92,200.21 617.50,202.50C620.08,204.79 622.08,207.92 623.00,210.00C623.92,212.08 623.50,212.92 623.00,215.00C622.50,217.08 622.17,219.79 620.00,222.50C617.83,225.21 614.17,228.54 610.00,231.25C605.83,233.96 600.00,236.88 595.00,238.75C590.00,240.62 586.67,241.04 580.00,242.50C573.33,243.96 562.50,246.42 555.00,247.50C547.50,248.58 540.83,248.87 535.00,249.00C529.17,249.13 526.67,248.60 520.00,248.30C513.33,248.00 501.67,247.54 495.00,247.20C488.33,246.86 485.83,246.12 480.00,246.25C474.17,246.38 468.33,247.28 460.00,248.00C451.67,248.72 440.00,249.64 430.00,250.60C420.00,251.56 408.33,252.73 400.00,253.75C391.67,254.77 386.67,255.91 380.00,256.70C373.33,257.49 368.33,257.98 360.00,258.50C351.67,259.02 339.17,259.47 330.00,259.80C320.83,260.13 312.50,260.27 305.00,260.50C297.50,260.73 290.83,260.78 285.00,261.20C279.17,261.62 275.00,262.03 270.00,263.00C265.00,263.97 259.83,265.00 255.00,267.00C250.17,269.00 245.17,271.33 241.00,275.00C236.83,278.67 233.50,284.50 230.00,289.00C226.50,293.50 223.12,298.58 220.00,302.00C216.88,305.42 214.17,307.38 211.25,309.50C208.33,311.62 205.42,313.22 202.50,314.75C199.58,316.28 196.67,317.61 193.75,318.70C190.83,319.79 187.92,320.62 185.00,321.30C182.08,321.98 179.17,322.58 176.25,322.80C173.33,323.02 170.42,323.00 167.50,322.60C164.58,322.20 161.67,321.35 158.75,320.40C155.83,319.45 152.29,318.13 150.00,316.90C147.71,315.67 146.67,314.98 145.00,313.00C143.33,311.02 141.25,308.00 140.00,305.00C138.75,302.00 138.75,298.75 137.50,295.00C136.25,291.25 134.58,287.50 132.50,282.50C130.42,277.50 127.08,270.42 125.00,265.00C122.92,259.58 121.04,254.17 120.00,250.00C118.96,245.83 118.96,242.83 118.75,240.00C118.54,237.17 118.64,235.50 118.75,233.00Z"/>
<path d="M158.90,229.00C158.72,226.62 158.80,225.88 159.40,223.75C160.00,221.62 160.94,218.96 162.50,216.25C164.06,213.54 166.25,210.21 168.75,207.50C171.25,204.79 174.38,202.18 177.50,200.00C180.62,197.82 184.17,195.83 187.50,194.40C190.83,192.97 193.75,192.23 197.50,191.40C201.25,190.57 204.58,189.93 210.00,189.40C215.42,188.87 221.67,188.37 230.00,188.20C238.33,188.03 248.33,188.45 260.00,188.40C271.67,188.35 287.50,188.48 300.00,187.90C312.50,187.32 323.33,185.80 335.00,184.90C346.67,184.00 362.71,182.80 370.00,182.50C377.29,182.20 375.83,182.85 378.75,183.10C381.67,183.35 384.58,183.63 387.50,184.00C390.42,184.37 393.33,184.78 396.25,185.30C399.17,185.82 402.08,186.15 405.00,187.10C407.92,188.05 411.42,189.77 413.75,191.00C416.08,192.23 417.25,193.18 419.00,194.50C420.75,195.82 422.50,197.44 424.25,198.90C426.00,200.36 428.04,202.08 429.50,203.25C430.96,204.42 431.83,205.18 433.00,205.90C434.17,206.62 435.33,207.05 436.50,207.60C437.67,208.15 438.17,208.57 440.00,209.20C441.83,209.83 445.00,210.78 447.50,211.40C450.00,212.02 452.50,212.47 455.00,212.90C457.50,213.33 460.37,213.50 462.50,214.00C464.63,214.50 466.48,215.22 467.80,215.90C469.12,216.58 469.90,217.53 470.40,218.10C470.90,218.67 470.80,218.92 470.80,219.30C470.80,219.68 470.90,219.85 470.40,220.40C469.90,220.95 469.12,221.92 467.80,222.60C466.48,223.28 464.63,223.93 462.50,224.50C460.37,225.07 457.50,225.57 455.00,226.00C452.50,226.43 450.00,226.72 447.50,227.10C445.00,227.48 442.92,227.90 440.00,228.30C437.08,228.70 435.83,228.38 430.00,229.50C424.17,230.62 413.33,233.02 405.00,235.00C396.67,236.98 385.83,240.15 380.00,241.40C374.17,242.65 375.00,241.90 370.00,242.50C365.00,243.10 356.67,244.33 350.00,245.00C343.33,245.67 338.33,246.13 330.00,246.50C321.67,246.87 310.83,247.12 300.00,247.20C289.17,247.28 274.17,246.78 265.00,247.00C255.83,247.22 250.83,247.67 245.00,248.50C239.17,249.33 234.83,251.05 230.00,252.00C225.17,252.95 220.08,253.53 216.00,254.20C211.92,254.87 209.00,255.58 205.50,256.00C202.00,256.42 198.80,256.70 195.00,256.70C191.20,256.70 186.35,256.63 182.70,256.00C179.05,255.37 176.02,254.50 173.10,252.90C170.18,251.30 167.30,248.88 165.20,246.40C163.10,243.92 161.55,240.90 160.50,238.00C159.45,235.10 159.08,231.38 158.90,229.00Z"/>
<path d="M194.40,223.00C194.37,221.30 194.62,219.08 195.30,217.30C195.98,215.52 196.80,213.80 198.50,212.30C200.20,210.80 202.88,209.52 205.50,208.30C208.12,207.08 211.28,205.82 214.20,205.00C217.12,204.18 220.37,203.77 223.00,203.40C225.63,203.03 225.92,203.20 230.00,202.80C234.08,202.40 241.67,201.58 247.50,201.00C253.33,200.42 259.58,199.77 265.00,199.30C270.42,198.83 275.83,198.48 280.00,198.20C284.17,197.92 286.67,198.07 290.00,197.60C293.33,197.13 295.42,196.03 300.00,195.40C304.58,194.77 311.67,194.32 317.50,193.80C323.33,193.28 329.17,192.73 335.00,192.30C340.83,191.87 346.67,191.45 352.50,191.20C358.33,190.95 365.62,190.68 370.00,190.80C374.38,190.92 375.83,191.35 378.75,191.90C381.67,192.45 384.58,193.08 387.50,194.10C390.42,195.12 393.77,196.55 396.25,198.00C398.73,199.45 400.79,201.20 402.40,202.80C404.01,204.40 405.25,206.22 405.90,207.60C406.55,208.98 406.45,209.78 406.30,211.10C406.15,212.42 405.95,213.89 405.00,215.50C404.05,217.11 402.35,219.15 400.60,220.75C398.85,222.35 396.68,223.79 394.50,225.10C392.32,226.41 390.12,227.57 387.50,228.60C384.88,229.62 381.67,230.48 378.75,231.25C375.83,232.02 374.79,232.41 370.00,233.20C365.21,233.99 356.67,235.20 350.00,236.00C343.33,236.80 338.33,237.58 330.00,238.00C321.67,238.42 309.17,238.50 300.00,238.50C290.83,238.50 282.50,238.42 275.00,238.00C267.50,237.58 262.50,236.40 255.00,236.00C247.50,235.60 236.80,235.70 230.00,235.60C223.20,235.50 218.28,235.62 214.20,235.40C210.12,235.18 208.12,235.00 205.50,234.30C202.88,233.60 200.17,232.33 198.50,231.20C196.83,230.07 196.18,228.87 195.50,227.50C194.82,226.13 194.43,224.70 194.40,223.00Z"/>
<path d="M267.60,217.70C267.60,216.67 267.77,215.62 268.50,214.60C269.23,213.58 270.40,212.55 272.00,211.60C273.60,210.65 275.77,209.72 278.10,208.90C280.43,208.08 283.52,207.35 286.00,206.70C288.48,206.05 290.67,205.53 293.00,205.00C295.33,204.47 297.38,204.02 300.00,203.50C302.62,202.98 305.83,202.38 308.75,201.90C311.67,201.42 314.58,200.96 317.50,200.60C320.42,200.24 323.33,200.03 326.25,199.75C329.17,199.47 332.08,199.16 335.00,198.90C337.92,198.64 340.83,198.38 343.75,198.20C346.67,198.02 349.58,197.83 352.50,197.80C355.42,197.77 358.33,197.75 361.25,198.00C364.17,198.25 367.67,198.87 370.00,199.30C372.33,199.73 373.50,199.87 375.25,200.60C377.00,201.33 378.98,202.60 380.50,203.70C382.02,204.80 383.52,206.18 384.40,207.20C385.27,208.22 385.67,208.85 385.75,209.80C385.83,210.75 385.62,211.73 384.90,212.90C384.17,214.07 382.87,215.57 381.40,216.80C379.93,218.03 378.00,219.20 376.10,220.30C374.20,221.40 372.68,222.37 370.00,223.40C367.32,224.43 365.00,225.40 360.00,226.50C355.00,227.60 346.67,229.17 340.00,230.00C333.33,230.83 326.67,231.38 320.00,231.50C313.33,231.62 304.50,230.97 300.00,230.70C295.50,230.43 295.33,230.25 293.00,229.90C290.67,229.55 288.48,229.18 286.00,228.60C283.52,228.02 280.43,227.20 278.10,226.40C275.77,225.60 273.60,224.74 272.00,223.80C270.40,222.86 269.23,221.77 268.50,220.75C267.77,219.73 267.60,218.72 267.60,217.70Z"/>
<ellipse cx="551.3" cy="219.8" rx="23.4" ry="9.1" transform="rotate(-3 551.3 219.8)"/>
</g>
<g stroke="#000" stroke-width="1.1" fill="none" stroke-linecap="square">
<path d="M66.5,140V742.5H662.5"/>
<path d="M66.5,119.5H662.5"/>
<path d="M682.5,140V742.5"/>
</g>
<g stroke="#000" stroke-width="1.1" stroke-linecap="butt">
<path d="M79.40,742.5v5"/>
<path d="M79.40,119.5v5"/>
<path d="M165.56,742.5v5"/>
<path d="M165.56,119.5v5"/>
<path d="M251.72,742.5v5"/>
<path d="M251.72,119.5v5"/>
<path d="M337.88,742.5v5"/>
<path d="M337.88,119.5v5"/>
<path d="M424.04,742.5v5"/>
<path d="M424.04,119.5v5"/>
<path d="M510.20,742.5v5"/>
<path d="M510.20,119.5v5"/>
<path d="M596.36,742.5v5"/>
<path d="M596.36,119.5v5"/>
<path d="M66.5,168.50h-5"/>
<path d="M682.5,168.50h-5"/>
<path d="M66.5,258.31h-5"/>
<path d="M682.5,258.31h-5"/>
<path d="M66.5,348.13h-5"/>
<path d="M682.5,348.13h-5"/>
<path d="M66.5,437.94h-5"/>
<path d="M682.5,437.94h-5"/>
<path d="M66.5,527.76h-5"/>
<path d="M682.5,527.76h-5"/>
<path d="M66.5,617.58h-5"/>
<path d="M682.5,617.58h-5"/>
<path d="M66.5,707.39h-5"/>
<path d="M682.5,707.39h-5"/>
</g>
<text transform="translate(79.40,762.00) scale(1.12,1)" text-anchor="middle" font-size="14" >−0.2</text>
<text transform="translate(165.56,762.00) scale(1.12,1)" text-anchor="middle" font-size="14" >0.0</text>
<text transform="translate(251.72,762.00) scale(1.12,1)" text-anchor="middle" font-size="14" >0.2</text>
<text transform="translate(337.88,762.00) scale(1.12,1)" text-anchor="middle" font-size="14" >0.4</text>
<text transform="translate(424.04,762.00) scale(1.12,1)" text-anchor="middle" font-size="14" >0.6</text>
<text transform="translate(510.20,762.00) scale(1.12,1)" text-anchor="middle" font-size="14" >0.8</text>
<text transform="translate(596.36,762.00) scale(1.12,1)" text-anchor="middle" font-size="14" >1.0</text>
<text transform="translate(56.00,173.50) scale(1.1,1)" text-anchor="end" font-size="14" >100</text>
<text transform="translate(56.00,263.31) scale(1.1,1)" text-anchor="end" font-size="14" >95</text>
<text transform="translate(56.00,353.13) scale(1.1,1)" text-anchor="end" font-size="14" >90</text>
<text transform="translate(56.00,442.94) scale(1.1,1)" text-anchor="end" font-size="14" >85</text>
<text transform="translate(56.00,532.76) scale(1.1,1)" text-anchor="end" font-size="14" >80</text>
<text transform="translate(56.00,622.58) scale(1.1,1)" text-anchor="end" font-size="14" >75</text>
<text transform="translate(56.00,712.39) scale(1.1,1)" text-anchor="end" font-size="14" >70</text>
<text transform="translate(661.50,133.50) scale(1.12,1)" text-anchor="end" font-size="14" >1e6</text>
<text transform="translate(661.50,781.00) scale(1.12,1)" text-anchor="end" font-size="14" >1e6</text>
<text transform="translate(364.00,782.00) scale(1.12,1)" text-anchor="middle" font-size="14" >longest</text>
<text transform="translate(21.8,441.3) rotate(-90) scale(1.085,1)" text-anchor="middle" font-size="14">Completeness_Specific</text>
<rect x="539.5" y="605.5" width="116" height="129.5" rx="3" ry="3" fill="#fff" fill-opacity="0.8" stroke="#ccc" stroke-width="1"/>
<text transform="translate(597.70,622.30) scale(1.085,1)" text-anchor="middle" font-size="14" >anomaly_score</text>
<circle cx="576.4" cy="638.40" r="4.5" fill="#7b77ae"/>
<text transform="translate(602.30,642.20) scale(1.07,1)" text-anchor="start" font-size="14" >0.03</text>
<circle cx="576.4" cy="659.15" r="4.5" fill="#6a9db2"/>
<text transform="translate(602.30,662.95) scale(1.07,1)" text-anchor="start" font-size="14" >0.06</text>
<circle cx="576.4" cy="679.90" r="4.5" fill="#5dbeaa"/>
<text transform="translate(602.30,683.70) scale(1.07,1)" text-anchor="start" font-size="14" >0.09</text>
<circle cx="576.4" cy="700.65" r="4.5" fill="#8bd98e"/>
<text transform="translate(602.30,704.45) scale(1.07,1)" text-anchor="start" font-size="14" >0.12</text>
<circle cx="576.4" cy="721.40" r="4.5" fill="#e6e958"/>
<text transform="translate(602.30,725.20) scale(1.07,1)" text-anchor="start" font-size="14" >0.15</text>
</svg></body></html>
